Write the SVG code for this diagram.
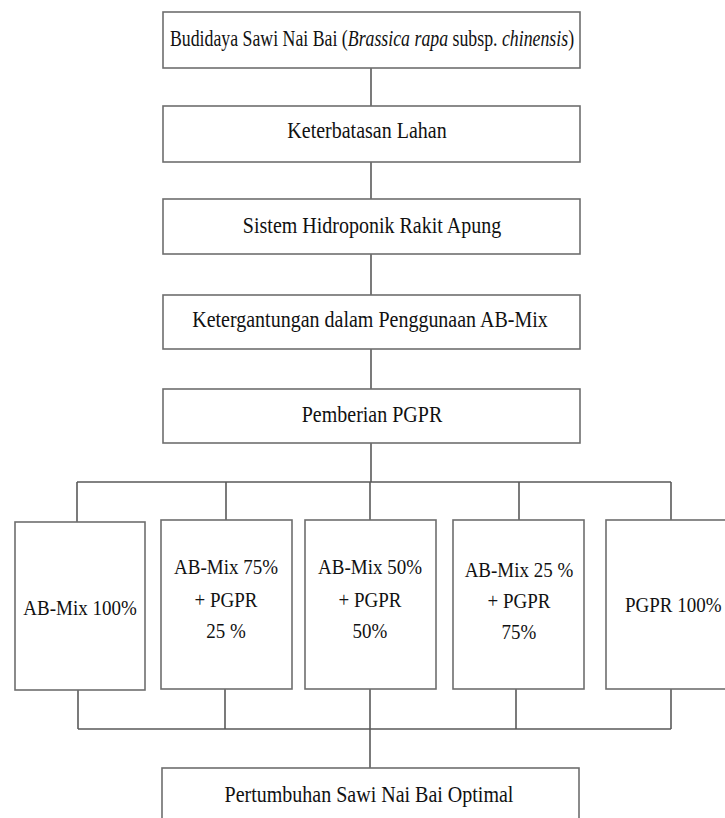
<svg xmlns="http://www.w3.org/2000/svg" width="725" height="818" viewBox="0 0 725 818">
<style>
  .box { fill: #ffffff; stroke: #6e6e6e; stroke-width: 1.6; }
  .ln { fill: none; stroke: #5a5a5a; stroke-width: 1.6; }
  .t { font-family: "Liberation Serif", "Times New Roman", serif; font-size: 20px; fill: #111111; text-anchor: middle; }
  .s { font-size: 19px; }
  .i { font-style: italic; }
</style>
<rect width="725" height="818" fill="#ffffff"/>
<g id="connectors">
  <path class="ln" d="M371 68 V106 M371 162 V199 M371 254 V295 M371 349 V389 M371 443 V482"/>
  <path class="ln" d="M77 482 H671 M77 482 V522 M226 482 V520 M370 482 V520 M519 482 V520 M671 482 V520"/>
  <path class="ln" d="M78 690 V729 M225 689 V729 M370 689 V729 M516 689 V729 M671 689 V729 M78 729 H671 M370 729 V768"/>
</g>
<g id="n-budidaya">
  <rect class="box" x="163" y="12" width="417" height="56"/>
  <text class="t" transform="translate(372 46) scale(0.89 1.15)">Budidaya Sawi Nai Bai (<tspan class="i">Brassica rapa</tspan> subsp. <tspan class="i">chinensis</tspan>)</text>
</g>
<g id="n-keterbatasan">
  <rect class="box" x="163" y="106" width="417" height="56"/>
  <text class="t" transform="translate(367 138) scale(1 1.15)">Keterbatasan Lahan</text>
</g>
<g id="n-sistem">
  <rect class="box" x="163" y="199" width="417" height="55"/>
  <text class="t" transform="translate(372 233) scale(1 1.15)">Sistem Hidroponik Rakit Apung</text>
</g>
<g id="n-ketergantungan">
  <rect class="box" x="163" y="295" width="417" height="54"/>
  <text class="t" transform="translate(370 327) scale(1 1.15)">Ketergantungan dalam Penggunaan AB-Mix</text>
</g>
<g id="n-pemberian">
  <rect class="box" x="163" y="389" width="417" height="54"/>
  <text class="t" transform="translate(372 422) scale(1 1.15)">Pemberian PGPR</text>
</g>
<g id="n-ab100">
  <rect class="box" x="15" y="522" width="130" height="168"/>
  <text class="t s" transform="translate(80 615) scale(1 1.15)">AB-Mix 100%</text>
</g>
<g id="n-ab75">
  <rect class="box" x="161" y="520" width="131" height="169"/>
  <text class="t s" transform="translate(226 574) scale(1 1.15)">AB-Mix 75%</text>
  <text class="t s" transform="translate(226 607) scale(1 1.15)">+ PGPR</text>
  <text class="t s" transform="translate(226 638) scale(1 1.15)">25 %</text>
</g>
<g id="n-ab50">
  <rect class="box" x="305" y="520" width="131" height="169"/>
  <text class="t s" transform="translate(370 574) scale(1 1.15)">AB-Mix 50%</text>
  <text class="t s" transform="translate(370 607) scale(1 1.15)">+ PGPR</text>
  <text class="t s" transform="translate(370 638) scale(1 1.15)">50%</text>
</g>
<g id="n-ab25">
  <rect class="box" x="453" y="520" width="131" height="169"/>
  <text class="t s" transform="translate(519 577) scale(1 1.15)">AB-Mix 25 %</text>
  <text class="t s" transform="translate(519 608) scale(1 1.15)">+ PGPR</text>
  <text class="t s" transform="translate(519 639) scale(1 1.15)">75%</text>
</g>
<g id="n-pgpr100">
  <rect class="box" x="606" y="520" width="134" height="169"/>
  <text class="t s" transform="translate(625 612) scale(1 1.15)" style="text-anchor:start">PGPR 100%</text>
</g>
<g id="n-pertumbuhan">
  <rect class="box" x="162" y="768" width="417" height="70"/>
  <text class="t" transform="translate(369 802) scale(1 1.15)">Pertumbuhan Sawi Nai Bai Optimal</text>
</g>
</svg>
